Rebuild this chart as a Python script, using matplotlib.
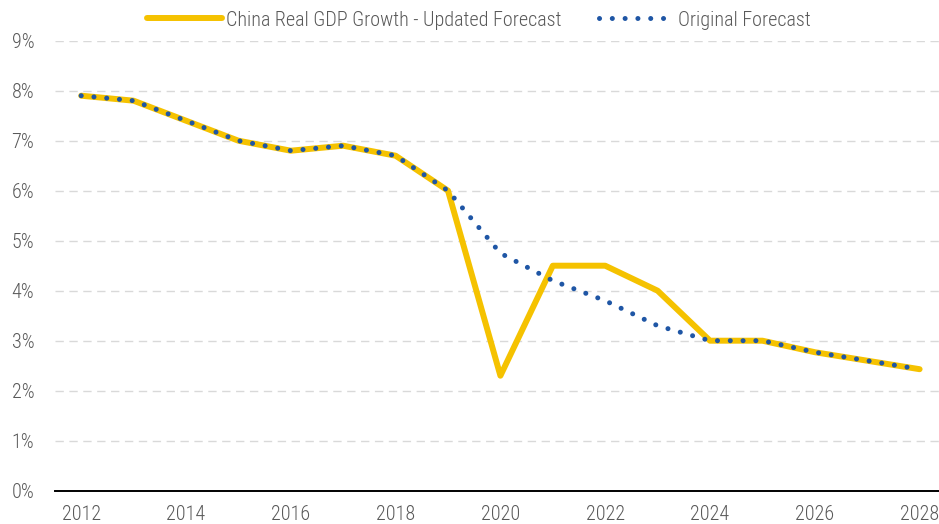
import matplotlib
matplotlib.use("Agg")
import matplotlib.pyplot as plt
from matplotlib.ticker import FuncFormatter

plt.rcParams['font.family'] = ['Roboto Condensed', 'Archivo Narrow', 'Barlow Semi Condensed', 'DejaVu Sans']
plt.rcParams['font.weight'] = 'light'

years = list(range(2012, 2029))
updated = [7.9, 7.8, 7.4, 7.0, 6.8, 6.9, 6.7, 6.0, 2.3, 4.5, 4.5, 4.0, 3.0, 3.0, 2.77, 2.6, 2.43]
original = [7.9, 7.8, 7.4, 7.0, 6.8, 6.9, 6.7, 6.0, 4.75, 4.2, 3.8, 3.3, 3.0, 3.0, 2.77, 2.6, 2.43]
xticks = list(range(2012, 2029, 2))
yticks = list(range(0, 10))

label_upd = "China Real GDP Growth - Updated Forecast"
label_orig = "Original Forecast"

fig = plt.figure(figsize=(9.39, 5.24), dpi=100)
ax = fig.add_axes([55/939, 1-490.7/524, (939-55)/939, (490.7-40.7)/524])

yellow = '#F5C200'
blue = '#1F56A5'
grey = '#595959'

ax.plot(years, updated, color=yellow, lw=4.3, solid_joinstyle='round', solid_capstyle='round',
        label=label_upd, zorder=3)
ax.plot(years, original, color=blue, lw=3.6, linestyle=(0, (0.01, 2.55)), dash_capstyle='round',
        label=label_orig, zorder=4)

ax.set_xlim(2011.5, 2028.37)
ax.set_ylim(0, 9)
ax.set_xticks(xticks)
ax.set_yticks(yticks)
ax.yaxis.set_major_formatter(FuncFormatter(lambda v, p: f"{int(v)}%"))
ax.tick_params(axis='both', length=0, labelsize=14.5, labelcolor=grey)
ax.tick_params(axis='y', pad=15)
ax.tick_params(axis='x', pad=10)

for s in ['top', 'right', 'left']:
    ax.spines[s].set_visible(False)
ax.spines['bottom'].set_color('black')
ax.spines['bottom'].set_linewidth(1.4)
ax.spines['bottom'].set_zorder(5)

for y in yticks[1:]:
    ax.axhline(y, color='#D9D9D9', lw=1.0, linestyle=(0, (6, 4)), zorder=1)

leg = fig.legend(loc='center', bbox_to_anchor=(0.51, 1-20/524), ncol=2, frameon=False,
                 fontsize=14.5, handlelength=3.7, columnspacing=1.9, handletextpad=0.2)
for t in leg.get_texts():
    t.set_color(grey)

fig.savefig('out.png', dpi=100)
